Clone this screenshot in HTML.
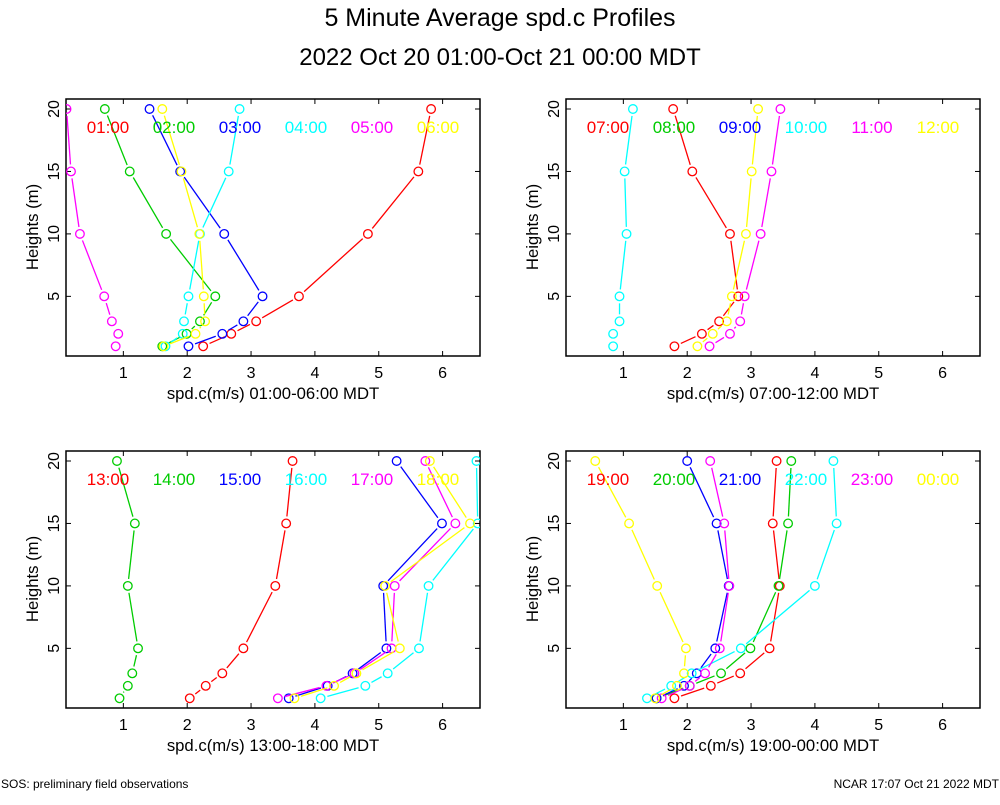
<!DOCTYPE html>
<html><head><meta charset="utf-8"><style>
body{margin:0;background:#fff;}
svg text{font-family:"Liberation Sans",sans-serif;}
</style></head><body>
<svg id="chart" width="1000" height="800" viewBox="0 0 1000 800" xmlns="http://www.w3.org/2000/svg">
<rect width="1000" height="800" fill="#fff"/>
<text x="500" y="26" font-size="25" text-anchor="middle">5 Minute Average spd.c Profiles</text>
<text x="500" y="65" font-size="24" text-anchor="middle">2022 Oct 20 01:00-Oct 21 00:00 MDT</text>
<text x="1" y="788" font-size="12">SOS: preliminary field observations</text>
<text x="999" y="788" font-size="12" text-anchor="end">NCAR 17:07 Oct 21 2022 MDT</text>
<g id="panels"></g>
</svg>
<script>
const heights = [1, 2, 3, 5, 10, 15, 20];
const xTicks = [1, 2, 3, 4, 5, 6];
const yTicks = [5, 10, 15, 20];
const colors = ["#ff0000", "#00cc00", "#0000ff", "#00ffff", "#ff00ff", "#ffff00"];
const panelTitles = ["spd.c(m/s) 01:00-06:00 MDT", "spd.c(m/s) 07:00-12:00 MDT", "spd.c(m/s) 13:00-18:00 MDT", "spd.c(m/s) 19:00-00:00 MDT"];
const panelLabels = [
  ["01:00","02:00","03:00","04:00","05:00","06:00"],
  ["07:00","08:00","09:00","10:00","11:00","12:00"],
  ["13:00","14:00","15:00","16:00","17:00","18:00"],
  ["19:00","20:00","21:00","22:00","23:00","00:00"]
];
// values at heights 1,2,3,5,10,15,20 ; null = no data
const p1s1 = [2.25, 2.69, 3.08, 3.75, 4.83, 5.62, 5.82];
const p1s2 = [1.61, 1.99, 2.20, 2.44, 1.67, 1.10, 0.71];
const p1s3 = [2.02, 2.55, 2.88, 3.18, 2.58, 1.89, 1.41];
const p1s4 = [1.66, 1.93, 1.95, 2.02, 2.20, 2.65, 2.82];
const p1s5 = [0.88, 0.92, 0.82, 0.70, 0.32, 0.18, 0.11];
const p1s6 = [1.63, 2.13, 2.28, 2.26, 2.19, 1.91, 1.61];
const p2s1 = [1.80, 2.23, 2.50, 2.80, 2.67, 2.08, 1.78];
const p2s2 = null;
const p2s3 = null;
const p2s4 = [0.84, 0.84, 0.94, 0.94, 1.05, 1.02, 1.15];
const p2s5 = [2.35, 2.67, 2.83, 2.90, 3.15, 3.32, 3.46];
const p2s6 = [2.16, 2.40, 2.62, 2.70, 2.92, 3.01, 3.11];
const p3s1 = [2.04, 2.29, 2.55, 2.88, 3.38, 3.55, 3.65];
const p3s2 = [0.94, 1.07, 1.14, 1.23, 1.07, 1.18, 0.90];
const p3s3 = [3.59, 4.20, 4.59, 5.12, 5.07, 5.99, 5.28];
const p3s4 = [4.09, 4.79, 5.14, 5.63, 5.78, 6.55, 6.53];
const p3s5 = [3.42, 4.18, 4.62, 5.20, 5.25, 6.20, 5.73];
const p3s6 = [3.68, 4.30, 4.65, 5.33, 5.10, 6.43, 5.80];
const p4s1 = [1.80, 2.37, 2.83, 3.29, 3.45, 3.34, 3.40];
const p4s2 = [1.52, 2.04, 2.53, 2.99, 3.43, 3.58, 3.63];
const p4s3 = [1.52, 1.95, 2.15, 2.44, 2.65, 2.46, 2.00];
const p4s4 = [1.37, 1.75, 2.07, 2.84, 4.00, 4.34, 4.29];
const p4s5 = [1.60, 2.04, 2.28, 2.51, 2.66, 2.58, 2.36];
const p4s6 = [1.50, 1.84, 1.95, 1.98, 1.53, 1.09, 0.56];
const panelSeries = [
  [p1s1,p1s2,p1s3,p1s4,p1s5,p1s6],
  [p2s1,p2s2,p2s3,p2s4,p2s5,p2s6],
  [p3s1,p3s2,p3s3,p3s4,p3s5,p3s6],
  [p4s1,p4s2,p4s3,p4s4,p4s5,p4s6]
];
const NS = "http://www.w3.org/2000/svg";
const root = document.getElementById("panels");
function mk(tag, attrs, parent){const e=document.createElementNS(NS,tag);for(const k in attrs)e.setAttribute(k,attrs[k]);parent.appendChild(e);return e;}
const offsets = [[0,0],[500,0],[0,352],[500,352]];
const L=66, R=480, T=99, B=356;
panelSeries.forEach((series, pi) => {
  const ox = offsets[pi][0], oy = offsets[pi][1];
  const xs = v => 59.5 + v*63.85 + ox;
  const ys = h => 109 + (20-h)*12.49 + oy;
  const g = mk("g", {}, root);
  
  
  const clip = mk("clipPath", {id:"clip"+pi}, g);
  mk("rect", {x:L+ox, y:T+oy, width:R-L, height:B-T}, clip);
  const frame = mk("rect", {x:L+ox, y:T+oy, width:R-L, height:B-T, fill:"none", stroke:"#000", "stroke-width":1.5}, g);
  
  
  xTicks.forEach(t => {
    const x = xs(t);
    mk("line", {x1:x, y1:B+oy, x2:x, y2:B+oy-5, stroke:"#000"}, g);
    mk("line", {x1:x, y1:T+oy, x2:x, y2:T+oy+5, stroke:"#000"}, g);
    const tx = mk("text", {x:x, y:B+oy+22, "font-size":16, "text-anchor":"middle"}, g);
    tx.textContent = t;
    
    
  });
  yTicks.forEach(t => {
    const y = ys(t);
    mk("line", {x1:L+ox, y1:y, x2:L+ox+5, y2:y, stroke:"#000"}, g);
    mk("line", {x1:R+ox, y1:y, x2:R+ox-5, y2:y, stroke:"#000"}, g);
    const tx = mk("text", {x:0, y:0, "font-size":16, "text-anchor":"middle", transform:`translate(${L+ox-7},${y}) rotate(-90)`}, g);
    tx.textContent = t;
    
    
  });
  const yl = mk("text", {x:0, y:0, "font-size":16.7, "text-anchor":"middle", transform:`translate(${38+ox},${227+oy}) rotate(-90)`}, g);
  yl.textContent = "Heights (m)";
  
  
  const xl = mk("text", {x:(L+R)/2+ox, y:B+oy+43, "font-size":16.7, "text-anchor":"middle"}, g);
  xl.textContent = panelTitles[pi];
  
  
  const cg = mk("g", {"clip-path":`url(#clip${pi})`}, g);
  series.forEach((vals, si) => {
    const lab = mk("text", {x:108+66*si+ox, y:133+oy, "font-size":17, "text-anchor":"middle", fill:colors[si]}, g);
    lab.textContent = panelLabels[pi][si];
    
    
    if (!vals) return;
    const sg = mk("g", {}, cg);
    
    
    const pts = vals.map((v,i) => [xs(v), ys(heights[i])]);
    for (let i=0;i<pts.length-1;i++){
      const [x1,y1]=pts[i],[x2,y2]=pts[i+1];
      const d=Math.hypot(x2-x1,y2-y1); const gap=7;
      if (d<=2*gap) continue;
      const ux=(x2-x1)/d, uy=(y2-y1)/d;
      const ln = mk("line", {x1:x1+ux*gap, y1:y1+uy*gap, x2:x2-ux*gap, y2:y2-uy*gap, stroke:colors[si], "stroke-width":1.3}, sg);
      
      
    }
    pts.forEach(p => {
      const c = mk("circle", {cx:p[0], cy:p[1], r:4.3, fill:"none", stroke:colors[si], "stroke-width":1.3}, sg);
      
      
    });
  });
});
</script>
</body></html>
